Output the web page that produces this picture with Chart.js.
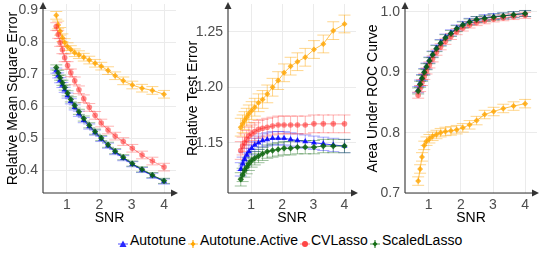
<!DOCTYPE html>
<html><head><meta charset="utf-8">
<script src="https://cdn.jsdelivr.net/npm/chart.js@4"></script>
<style>
html,body{margin:0;padding:0;background:#fff;width:543px;height:255px;overflow:hidden;font-family:"Liberation Sans",Arial,sans-serif}
canvas{position:absolute;top:0}
.lg{position:absolute;top:232px;height:16px;line-height:16px;font-size:14px;color:#000;white-space:nowrap}
.lm{position:absolute;top:235px}
</style></head><body>
<canvas id="c1" width="180" height="230" style="left:0"></canvas>
<canvas id="c2" width="180" height="230" style="left:180px"></canvas>
<canvas id="c3" width="183" height="230" style="left:360px"></canvas>
<div id="legend"></div>
<script>
// ---------------- data ----------------
const seriesNames = ['Autotune', 'Autotune.Active', 'CVLasso', 'ScaledLasso'];
const snr = [0.67, 0.73, 0.79, 0.86, 0.93, 1.02, 1.12, 1.24, 1.37, 1.52, 1.69, 1.87, 2.06, 2.27, 2.49, 2.74, 3.02, 3.32, 3.64, 4.00];
const xTicks = [1, 2, 3, 4];

// Relative Mean Square Error
const mseAutotune = [0.712, 0.697, 0.682, 0.667, 0.652, 0.634, 0.616, 0.597, 0.577, 0.557, 0.537, 0.518, 0.498, 0.477, 0.457, 0.438, 0.419, 0.401, 0.383, 0.365];
const mseActive   = [0.885, 0.855, 0.835, 0.815, 0.800, 0.787, 0.778, 0.768, 0.762, 0.754, 0.745, 0.735, 0.726, 0.712, 0.696, 0.680, 0.667, 0.657, 0.650, 0.638];
const mseCVLasso  = [0.850, 0.825, 0.800, 0.777, 0.752, 0.728, 0.705, 0.680, 0.652, 0.624, 0.597, 0.572, 0.548, 0.526, 0.507, 0.490, 0.469, 0.448, 0.429, 0.410];
const mseScaled   = [0.722, 0.705, 0.690, 0.674, 0.659, 0.641, 0.622, 0.603, 0.583, 0.562, 0.541, 0.521, 0.501, 0.480, 0.460, 0.441, 0.421, 0.403, 0.385, 0.367];
const mseErr = [0.008, 0.012, 0.012, 0.008];
const mseTicks = [0.4, 0.5, 0.6, 0.7, 0.8, 0.9];
const mseTickLabels = ['0.4', '0.5', '0.6', '0.7', '0.8', '0.9'];

// Relative Test Error
const rteAutotune = [1.126, 1.131, 1.135, 1.139, 1.142, 1.145, 1.148, 1.150, 1.152, 1.153, 1.154, 1.154, 1.154, 1.153, 1.152, 1.151, 1.150, 1.149, 1.148, 1.147];
const rteActive   = [1.164, 1.167, 1.170, 1.173, 1.176, 1.179, 1.182, 1.186, 1.189, 1.194, 1.200, 1.206, 1.213, 1.219, 1.223, 1.227, 1.234, 1.239, 1.251, 1.257];
const rteCVLasso  = [1.143, 1.147, 1.150, 1.153, 1.156, 1.158, 1.160, 1.162, 1.163, 1.164, 1.165, 1.166, 1.166, 1.166, 1.166, 1.166, 1.167, 1.167, 1.167, 1.167];
const rteScaled   = [1.117, 1.121, 1.125, 1.128, 1.131, 1.134, 1.136, 1.138, 1.140, 1.142, 1.143, 1.144, 1.145, 1.145, 1.146, 1.146, 1.146, 1.147, 1.147, 1.147];
const rteErr = [0.006, 0.008, 0.008, 0.006];
const rteTicks = [1.15, 1.20, 1.25];
const rteTickLabels = ['1.15', '1.20', '1.25'];

// Area Under ROC Curve
const aucAutotune = [0.871, 0.882, 0.891, 0.901, 0.910, 0.920, 0.930, 0.940, 0.949, 0.958, 0.965, 0.973, 0.979, 0.984, 0.987, 0.990, 0.992, 0.993, 0.995, 0.997];
const aucActive   = [0.720, 0.740, 0.760, 0.779, 0.786, 0.790, 0.794, 0.797, 0.800, 0.802, 0.803, 0.805, 0.808, 0.813, 0.820, 0.830, 0.835, 0.840, 0.844, 0.848];
const aucCVLasso  = [0.862, 0.873, 0.883, 0.893, 0.902, 0.912, 0.922, 0.933, 0.942, 0.951, 0.959, 0.967, 0.973, 0.978, 0.982, 0.985, 0.988, 0.990, 0.992, 0.994];
const aucScaled   = [0.869, 0.880, 0.890, 0.900, 0.909, 0.919, 0.929, 0.939, 0.948, 0.957, 0.964, 0.972, 0.978, 0.983, 0.987, 0.989, 0.991, 0.993, 0.995, 0.997];
const aucErr = [0.005, 0.007, 0.005, 0.005];
const aucTicks = [0.7, 0.8, 0.9, 1.0];
const aucTickLabels = ['0.7', '0.8', '0.9', '1.0'];

// ---------------- styles ----------------
const pointCol = ['rgba(0,0,255,0.85)', 'rgba(255,165,0,0.8)', 'rgba(255,40,40,0.55)', 'rgba(10,100,10,0.85)'];
const lineCol  = ['rgba(0,0,255,0.75)', 'rgba(255,165,0,0.7)', 'rgba(255,40,40,0.5)', 'rgba(10,100,10,0.75)'];
const errCol   = ['rgba(0,0,255,0.35)', 'rgba(255,165,0,0.45)', 'rgba(255,40,40,0.35)', 'rgba(10,100,10,0.4)'];
const shapes   = ['triangle', 'rectRot', 'circle', 'rectRot'];
const radii    = [3.5, 3, 2.8, 3.2];
const FONT = '"Liberation Sans", Arial, sans-serif';

const errorBars = {
  id: 'errorBars',
  beforeDatasetsDraw(chart) {
    const {ctx, scales: {x, y}, chartArea} = chart;
    const cap = 6;
    ctx.save();
    ctx.beginPath();
    ctx.rect(chartArea.left, chartArea.top, chartArea.right - chartArea.left, chartArea.bottom - chartArea.top);
    ctx.clip();
    ctx.lineWidth = 1;
    chart.data.datasets.forEach(ds => {
      ctx.strokeStyle = ds.errColor;
      ds.data.forEach((p, j) => {
        const e = ds.errors[j];
        const px = x.getPixelForValue(p.x);
        const y1 = y.getPixelForValue(p.y + e);
        const y2 = y.getPixelForValue(p.y - e);
        ctx.beginPath();
        ctx.moveTo(px, y1); ctx.lineTo(px, y2);
        ctx.moveTo(px - cap, y1); ctx.lineTo(px + cap, y1);
        ctx.moveTo(px - cap, y2); ctx.lineTo(px + cap, y2);
        ctx.stroke();
      });
    });
    ctx.restore();
  }
};

const axisArrows = {
  id: 'axisArrows',
  afterDraw(chart) {
    const {ctx, chartArea: {left, right, top, bottom}} = chart;
    ctx.save();
    ctx.strokeStyle = '#333'; ctx.fillStyle = '#333'; ctx.lineWidth = 1.1;
    ctx.beginPath();
    ctx.moveTo(left, bottom); ctx.lineTo(left, top + 4);
    ctx.moveTo(left, bottom); ctx.lineTo(right - 4, bottom);
    ctx.stroke();
    ctx.beginPath();
    ctx.moveTo(left, top - 2); ctx.lineTo(left - 3.5, top + 5); ctx.lineTo(left + 3.5, top + 5); ctx.closePath(); ctx.fill();
    ctx.beginPath();
    ctx.moveTo(right + 2, bottom); ctx.lineTo(right - 5, bottom - 3.5); ctx.lineTo(right - 5, bottom + 3.5); ctx.closePath(); ctx.fill();
    ctx.restore();
  }
};

function makeChart(id, values, errs, yMin, yMax, yTicks, yLabels, title, yWidth, padRight) {
  const datasets = values.map((vals, i) => ({
    label: seriesNames[i],
    data: snr.map((x, j) => ({x, y: vals[j]})),
    errors: snr.map(() => errs[i]),
    errColor: errCol[i],
    showLine: true,
    borderColor: lineCol[i],
    borderWidth: 1,
    pointStyle: shapes[i],
    pointRadius: radii[i],
    pointBorderWidth: 0,
    pointBackgroundColor: pointCol[i],
    pointBorderColor: pointCol[i],
    order: 3 - i
  }));
  const zeroPad = s => { s.paddingTop = 0; s.paddingBottom = 0; s.paddingLeft = 0; s.paddingRight = 0; };
  return new Chart(document.getElementById(id), {
    type: 'scatter',
    data: {datasets},
    plugins: [errorBars, axisArrows],
    options: {
      responsive: false, animation: false, devicePixelRatio: 1,
      layout: {padding: {top: 4, right: padRight, bottom: 0, left: 0}},
      plugins: {legend: {display: false}, tooltip: {enabled: false}},
      scales: {
        x: {
          type: 'linear', min: 0.26, max: 4.37,
          afterBuildTicks: s => { s.ticks = xTicks.map(v => ({value: v})); },
          afterFit: s => { s.height = 37; zeroPad(s); },
          grid: {color: '#EBEBEB', lineWidth: 1, drawTicks: false},
          border: {display: false},
          ticks: {color: '#4D4D4D', font: {family: FONT, size: 14}, padding: 4, autoSkip: false, maxRotation: 0,
                  callback: v => String(v)},
          title: {display: true, text: 'SNR', color: '#000', font: {family: FONT, size: 14}, padding: {top: 0, bottom: 3.6}}
        },
        y: {
          type: 'linear', min: yMin, max: yMax,
          afterBuildTicks: s => { s.ticks = yTicks.map(v => ({value: v})); },
          afterFit: s => { s.width = yWidth; zeroPad(s); },
          grid: {color: '#EBEBEB', lineWidth: 1, drawTicks: false},
          border: {display: false},
          ticks: {color: '#4D4D4D', font: {family: FONT, size: 14}, padding: 5, autoSkip: false,
                  callback: (v) => { const k = yTicks.findIndex(t => Math.abs(t - v) < 1e-9); return k >= 0 ? yLabels[k] : ''; }},
          title: {display: true, text: title, color: '#000', font: {family: FONT, size: 14}, padding: {top: 4.6, bottom: 0}}
        }
      }
    }
  });
}

makeChart('c1', [mseAutotune, mseActive, mseCVLasso, mseScaled], mseErr, 0.329, 0.9205, mseTicks, mseTickLabels, 'Relative Mean Square Error', 43, 4);
makeChart('c2', [rteAutotune, rteActive, rteCVLasso, rteScaled], rteErr, 1.1047, 1.275, rteTicks, rteTickLabels, 'Relative Test Error', 48, 0);
makeChart('c3', [aucAutotune, aucActive, aucCVLasso, aucScaled], aucErr, 0.7003, 1.0127, aucTicks, aucTickLabels, 'Area Under ROC Curve', 45, 6);

// ---------------- legend ----------------
const legendMarkX = [123, 192.5, 304.5, 374.5];
const legendTextX = [130, 200, 311, 382];
const glyph = [
  '<polygon points="5,1.5 8.5,8 1.5,8" fill="rgb(40,40,255)"/>',
  '<line x1="5" y1="1" x2="5" y2="9" stroke="rgba(255,165,0,0.9)" stroke-width="1.2"/><polygon points="5,2.5 7.5,5 5,7.5 2.5,5" fill="rgb(255,165,0)"/>',
  '<circle cx="5" cy="5" r="3" fill="rgb(255,70,70)"/>',
  '<line x1="5" y1="1" x2="5" y2="9" stroke="rgba(10,100,10,0.8)" stroke-width="1.2"/><polygon points="5,2.5 7.5,5 5,7.5 2.5,5" fill="rgb(20,110,20)"/>'
];
const lineKey = ['rgba(0,0,255,0.7)', 'rgba(255,165,0,0.7)', 'rgba(255,40,40,0.6)', 'rgba(10,100,10,0.7)'];
const lg = document.getElementById('legend');
seriesNames.forEach((name, i) => {
  const m = document.createElement('div');
  m.className = 'lm';
  m.style.left = (legendMarkX[i] - 5) + 'px';
  m.innerHTML = '<svg width="10" height="10" viewBox="0 0 10 10"><line x1="0" y1="5" x2="10" y2="5" stroke="' + lineKey[i] + '" stroke-width="1"/>' + glyph[i] + '</svg>';
  lg.appendChild(m);
  const t = document.createElement('div');
  t.className = 'lg';
  t.style.left = legendTextX[i] + 'px';
  t.textContent = name;
  lg.appendChild(t);
});
</script>
</body></html>
